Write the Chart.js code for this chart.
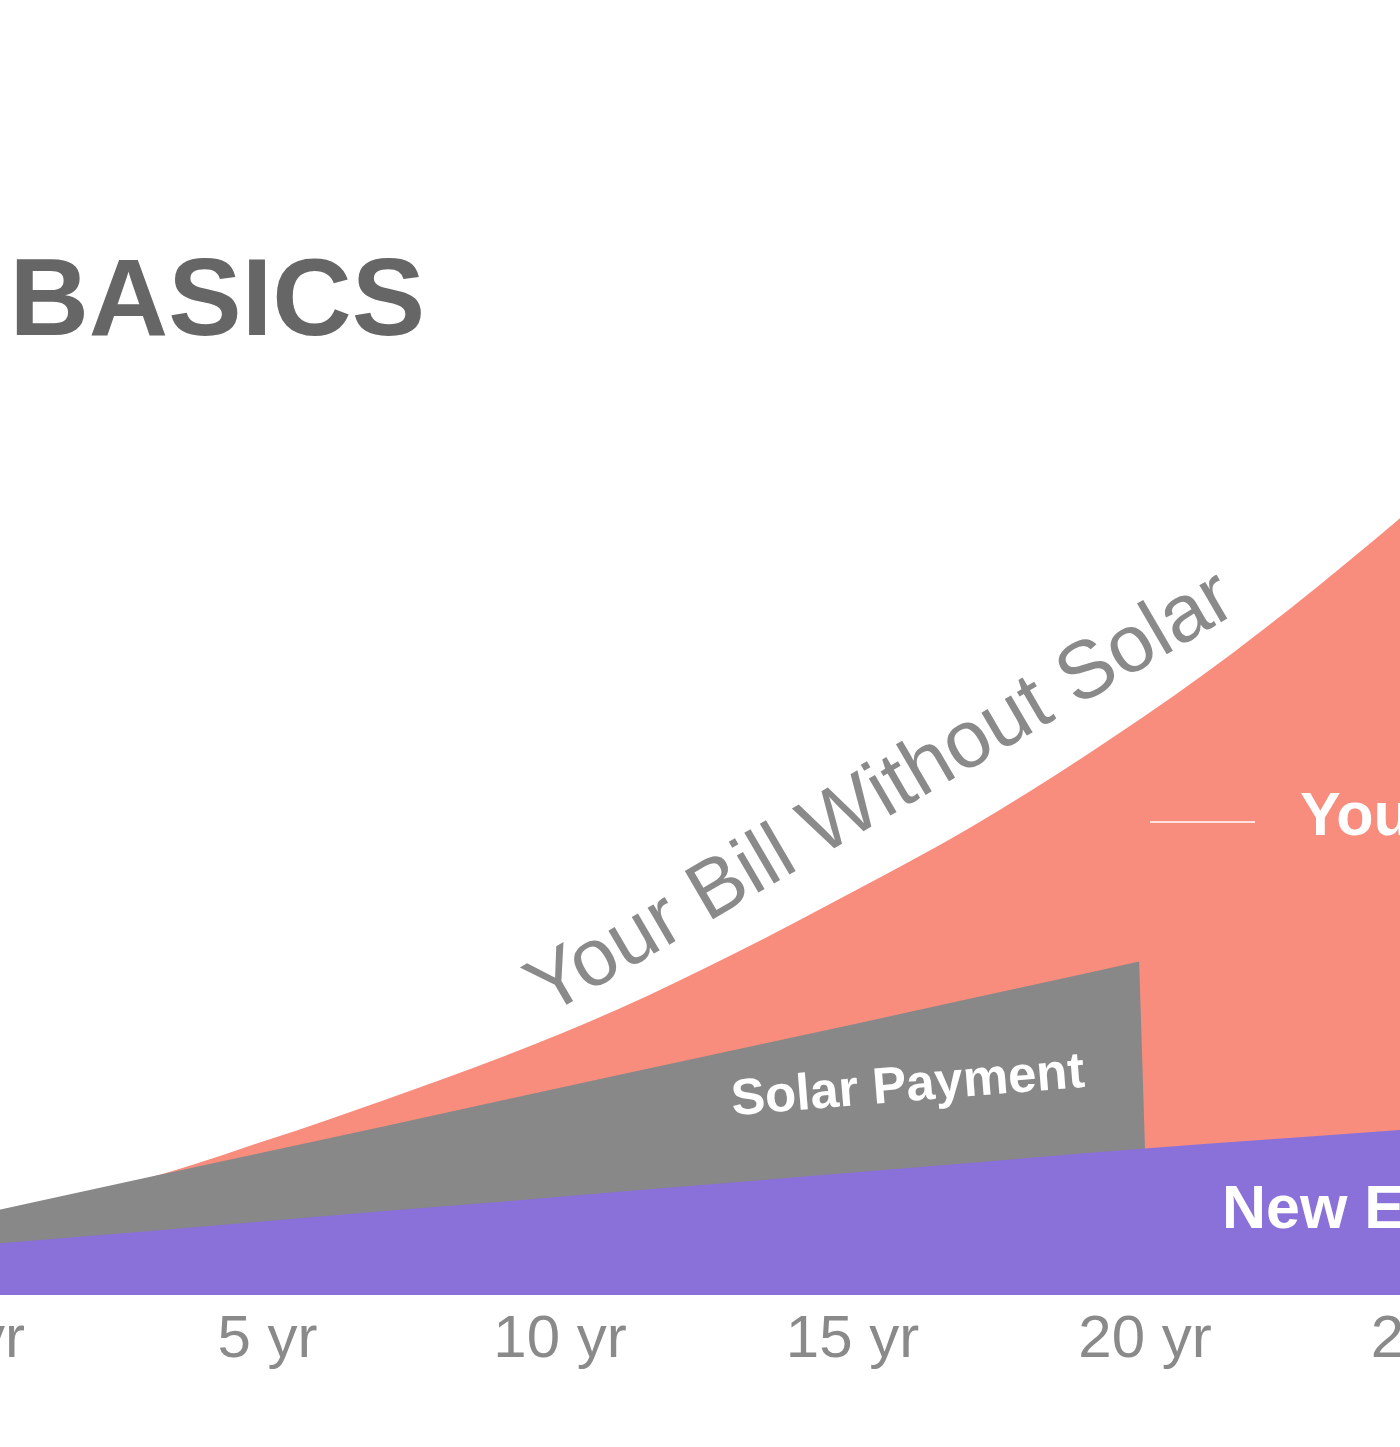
<!DOCTYPE html>
<html>
<head>
<meta charset="utf-8">
<script src="https://cdn.jsdelivr.net/npm/chart.js@4.4.1/dist/chart.umd.min.js"></script>
<style>
    html, body { margin: 0; padding: 0; background: #fff; overflow: hidden; }
    #wrap { position: absolute; left: -300px; top: 0; width: 1900px; height: 1447px; }
</style>
</head>
<body>
<div id="wrap"><canvas id="chart" width="1900" height="1447"></canvas></div>
<script>
// Datos
const years = [-3, -1, 1, 3, 5, 7, 9, 11, 13, 15, 17, 19, 21, 23, 25, 27];
const newBill = [7.0, 9.0, 11.0, 12.9, 14.9, 16.9, 18.8, 20.8, 22.7, 24.7, 26.6, 28.6, 30.4, 32.1, 33.8, 35.4];
const billWithoutSolar = [8.2, 13.3, 18.5, 23.7, 31.2, 39.3, 47.9, 57.6, 68.9, 81.2, 94.1, 108.8, 125.0, 143.2, 163.0, 184.6];

const payYears = [-3, -1, 1, 3, 5, 7, 9, 11, 13, 15, 17, 19, 19.9, 20];
const billWithSolar = [8.4, 13.5, 18.7, 23.8, 28.9, 34.0, 39.2, 44.3, 49.4, 54.5, 59.7, 64.8, 67.2, 29.6];

const tickYears = [0, 5, 10, 15, 20, 25];
const tickLabels = ['0 yr', '5 yr', '10 yr', '15 yr', '20 yr', '25 yr'];

(function() {
    'use strict';

    const OFF = 300; // el canvas empieza 300px a la izquierda de la página
    const FONT = "'Liberation Sans', Arial, sans-serif";

    function points(xs, ys) {
        return xs.map(function(x, i) { return { x: x, y: ys[i] }; });
    }

    // Textos y línea guía
    const labelsPlugin = {
        id: 'labels',
        afterDatasetsDraw: function(chart) {
            const ctx = chart.ctx;
            ctx.save();

            ctx.fillStyle = '#666666';
            ctx.font = 'bold 110px ' + FONT;
            ctx.textAlign = 'right';
            ctx.textBaseline = 'alphabetic';
            ctx.fillText('BASICS', 425 + OFF, 335);

            ctx.save();
            ctx.translate(893 + OFF, 814);
            ctx.rotate(-30.3 * Math.PI / 180);
            ctx.fillStyle = '#8a8a8a';
            ctx.font = '81px ' + FONT;
            ctx.textAlign = 'center';
            ctx.fillText('Your Bill Without Solar', 0, 0);
            ctx.restore();

            ctx.save();
            ctx.translate(909 + OFF, 1101);
            ctx.rotate(-4.6 * Math.PI / 180);
            ctx.fillStyle = '#ffffff';
            ctx.font = 'bold 51px ' + FONT;
            ctx.textAlign = 'center';
            ctx.fillText('Solar Payment', 0, 0);
            ctx.restore();

            ctx.fillStyle = '#ffffff';
            ctx.font = 'bold 61px ' + FONT;
            ctx.textAlign = 'left';
            ctx.fillText('New Electric Bill', 1222 + OFF, 1228);
            ctx.fillText('Your Savings', 1300 + OFF, 835);

            ctx.strokeStyle = '#ffffff';
            ctx.lineWidth = 1.5;
            ctx.beginPath();
            ctx.moveTo(1150 + OFF, 822);
            ctx.lineTo(1255 + OFF, 822);
            ctx.stroke();

            ctx.restore();
        }
    };

    new Chart(document.getElementById('chart'), {
        type: 'line',
        data: {
            datasets: [
                {
                    label: 'New Electric Bill',
                    data: points(years, newBill),
                    backgroundColor: '#8a70d9',
                    borderColor: '#8a70d9',
                    borderWidth: 0,
                    pointRadius: 0,
                    fill: 'origin',
                    tension: 0
                },
                {
                    label: 'Solar Payment',
                    data: points(payYears, billWithSolar),
                    backgroundColor: '#888888',
                    borderColor: '#888888',
                    borderWidth: 0,
                    pointRadius: 0,
                    fill: 'origin',
                    tension: 0
                },
                {
                    label: 'Your Bill Without Solar',
                    data: points(years, billWithoutSolar),
                    backgroundColor: '#f88d7e',
                    borderColor: '#f88d7e',
                    borderWidth: 0,
                    pointRadius: 0,
                    fill: 'origin',
                    cubicInterpolationMode: 'monotone'
                }
            ]
        },
        options: {
            responsive: false,
            devicePixelRatio: 1,
            animation: false,
            layout: {
                padding: { left: 99.5, right: 45.5, top: 54, bottom: 62 }
            },
            plugins: {
                legend: { display: false },
                tooltip: { enabled: false }
            },
            scales: {
                x: {
                    type: 'linear',
                    min: -3,
                    max: 27,
                    grid: { display: false, drawTicks: false },
                    border: { display: false },
                    afterBuildTicks: function(scale) {
                        scale.ticks = tickYears.map(function(v) { return { value: v }; });
                    },
                    ticks: {
                        padding: 9,
                        color: '#8a8a8a',
                        font: { family: FONT, size: 60 },
                        maxRotation: 0,
                        autoSkip: false,
                        callback: function(value) {
                            const i = tickYears.indexOf(value);
                            return i >= 0 ? tickLabels[i] : '';
                        }
                    }
                },
                y: {
                    display: false,
                    min: 0,
                    max: 250
                }
            }
        },
        plugins: [labelsPlugin]
    });
})();
</script>
</body>
</html>
